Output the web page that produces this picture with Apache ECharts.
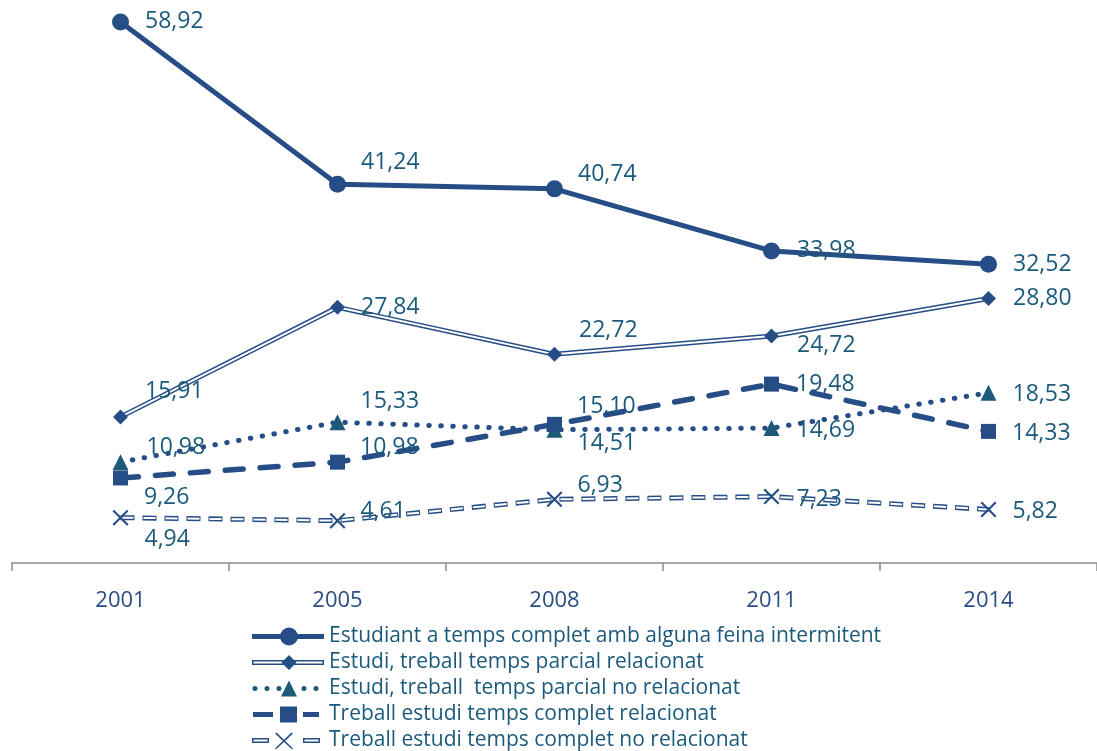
<!DOCTYPE html>
<html>
<head>
<meta charset="utf-8">
<script src="https://cdn.jsdelivr.net/npm/echarts@6/dist/echarts.min.js"></script>
<style>
html, body { margin: 0; padding: 0; background: #fff; }
#chart { width: 1097px; height: 751px; }
</style>
</head>
<body>
<div id="chart"></div>
<script>
// dades
const years = ['2001', '2005', '2008', '2011', '2014'];
const tempsComplet = [58.92, 41.24, 40.74, 33.98, 32.52];
const parcialRelacionat = [15.91, 27.84, 22.72, 24.72, 28.80];
const parcialNoRelacionat = [10.98, 15.33, 14.51, 14.69, 18.53];
const completRelacionat = [9.26, 10.98, 15.10, 19.48, 14.33];
const completNoRelacionat = [4.94, 4.61, 6.93, 7.23, 5.82];

const names = [
    'Estudiant a temps complet amb alguna feina intermitent',
    'Estudi, treball temps parcial relacionat',
    'Estudi, treball  temps parcial no relacionat',
    'Treball estudi temps complet relacionat',
    'Treball estudi temps complet no relacionat'
];

// desplaçament de les etiquetes [dx, dy] respecte del punt
const offTempsComplet = [[16, 0], [15, -22], [15, -14], [17, 0], [16, 0]];
const offParcialRel = [[17, -25], [16, 0], [17, -24], [18, 9], [17, 0]];
const offParcialNoRel = [[18, -15], [15, -21], [15, 14], [17, 2], [16, 2]];
const offCompletRel = [[16, 19], [15, -15], [15, -18], [17, 0], [16, 2]];
const offCompletNoRel = [[16, 22], [15, -9], [15, -14], [17, 3], [16, 2]];

const BLUE = '#264d86';
const LABEL = '#1b5a7c';
const FONT = 'Open Sans';

const fmt = v => v.toFixed(2).replace('.', ',');

function withLabels(values, offsets) {
    return values.map((v, i) => ({
        value: v,
        label: { offset: offsets[i] }
    }));
}

const labelBase = {
    show: true,
    position: 'right',
    distance: 0,
    color: LABEL,
    fontSize: 23,
    fontFamily: FONT,
    formatter: p => fmt(p.value)
};

const xIcon = 'path://M1.5,0 L16,14.5 L14.5,16 L0,1.5 Z M14.5,0 L16,1.5 L1.5,16 L0,14.5 Z';

// icones de la llegenda (caixa 72x18, els punts de les cantonades fixen la mida)
const corners = ' M0,0 L0.01,0 L0,0.01 Z M72,18 L71.99,18 L72,17.99 Z';
const icon1 = 'path://M0,6.5 H72 V11.5 H0 Z M28,9 A9,9 0 1,1 46,9 A9,9 0 1,1 28,9 Z' + corners;
const icon2 = 'path://M0,6.5 H72 V11.5 H0 Z M1.5,8 V10 H70.5 V8 Z M37,1.5 L44.5,9 L37,16.5 L29.5,9 Z' + corners;
const icon3 = 'path://M0.5,9 A2.5,2.5 0 1,1 5.5,9 A2.5,2.5 0 1,1 0.5,9 Z' +
    ' M12.5,9 A2.5,2.5 0 1,1 17.5,9 A2.5,2.5 0 1,1 12.5,9 Z' +
    ' M24.5,9 A2.5,2.5 0 1,1 29.5,9 A2.5,2.5 0 1,1 24.5,9 Z' +
    ' M49.5,9 A2.5,2.5 0 1,1 54.5,9 A2.5,2.5 0 1,1 49.5,9 Z' +
    ' M61.5,9 A2.5,2.5 0 1,1 66.5,9 A2.5,2.5 0 1,1 61.5,9 Z' +
    ' M37,1 L45,17 L29,17 Z' + corners;
const icon4 = 'path://M1,6.5 H21 V11.5 H1 Z M28,1 H45 V17 H28 Z M51,6.5 H67 V11.5 H51 Z' + corners;
const icon5 = 'path://M0,6.5 H17 V11.5 H0 Z M1.5,8 V10 H15.5 V8 Z M51,6.5 H68 V11.5 H51 Z M52.5,8 V10 H66.5 V8 Z' +
    ' M24.5,1 L41,17 L39.5,17.5 L23,2 Z M39.5,1 L41,2 L24.5,17.5 L23,17 Z' + corners;

let chart = echarts.init(document.getElementById('chart'));

let option = {
    animation: false,
    grid: { left: 12, right: -5, top: 12, bottom: 188 },
    legend: {
        orient: 'vertical',
        left: 252,
        top: 626,
        height: 200,
        padding: 0,
        itemWidth: 72,
        itemHeight: 18,
        itemGap: 5,
        textStyle: { color: LABEL, fontSize: 21, fontFamily: FONT },
        data: [
            { name: names[0], icon: icon1 },
            { name: names[1], icon: icon2 },
            { name: names[2], icon: icon3 },
            { name: names[3], icon: icon4 },
            { name: names[4], icon: icon5 }
        ]
    },
    xAxis: {
        type: 'category',
        data: years,
        axisLine: { show: true, lineStyle: { color: '#8c8c8c', width: 1.5 } },
        axisTick: { show: true, length: 8, lineStyle: { color: '#8c8c8c', width: 1.5 } },
        axisLabel: { color: '#2a4d86', fontSize: 22, fontFamily: FONT, margin: 27 }
    },
    yAxis: {
        type: 'value',
        min: 0,
        max: 60,
        show: false,
        splitLine: { show: false }
    },
    series: [
        // línia doble (base blava + interior blanc)
        {
            type: 'line', z: 2, silent: true, symbol: 'none',
            data: parcialRelacionat,
            lineStyle: { color: BLUE, width: 5 }
        },
        {
            type: 'line', z: 3, silent: true, symbol: 'none',
            data: parcialRelacionat,
            lineStyle: { color: '#fff', width: 2 }
        },
        // línia doble discontínua
        {
            type: 'line', z: 2, silent: true, symbol: 'none',
            data: completNoRelacionat,
            lineStyle: { color: BLUE, width: 5, type: [14, 8] }
        },
        {
            type: 'line', z: 3, silent: true, symbol: 'none',
            data: completNoRelacionat,
            lineStyle: { color: '#fff', width: 2, type: [12, 10], dashOffset: -1 }
        },
        {
            name: names[0],
            type: 'line', z: 6,
            symbol: 'circle', symbolSize: 17,
            itemStyle: { color: BLUE },
            lineStyle: { color: BLUE, width: 5 },
            label: labelBase,
            data: withLabels(tempsComplet, offTempsComplet)
        },
        {
            name: names[1],
            type: 'line', z: 6,
            symbol: 'diamond', symbolSize: 15,
            itemStyle: { color: BLUE },
            lineStyle: { opacity: 0 },
            label: labelBase,
            data: withLabels(parcialRelacionat, offParcialRel)
        },
        {
            name: names[2],
            type: 'line', z: 5,
            symbol: 'triangle', symbolSize: 16,
            itemStyle: { color: '#1d5a7a' },
            lineStyle: { color: BLUE, width: 5, type: [0.5, 11.5], cap: 'round' },
            label: labelBase,
            data: withLabels(parcialNoRelacionat, offParcialNoRel)
        },
        {
            name: names[3],
            type: 'line', z: 5,
            symbol: 'rect', symbolSize: 15,
            itemStyle: { color: BLUE },
            lineStyle: { color: BLUE, width: 5.5, type: [18, 17], cap: 'round' },
            label: labelBase,
            data: withLabels(completRelacionat, offCompletRel)
        },
        {
            name: names[4],
            type: 'line', z: 6,
            symbol: xIcon, symbolSize: 16,
            itemStyle: { color: BLUE },
            lineStyle: { opacity: 0 },
            label: labelBase,
            data: withLabels(completNoRelacionat, offCompletNoRel)
        }
    ]
};

option && chart.setOption(option);
</script>
</body>
</html>
